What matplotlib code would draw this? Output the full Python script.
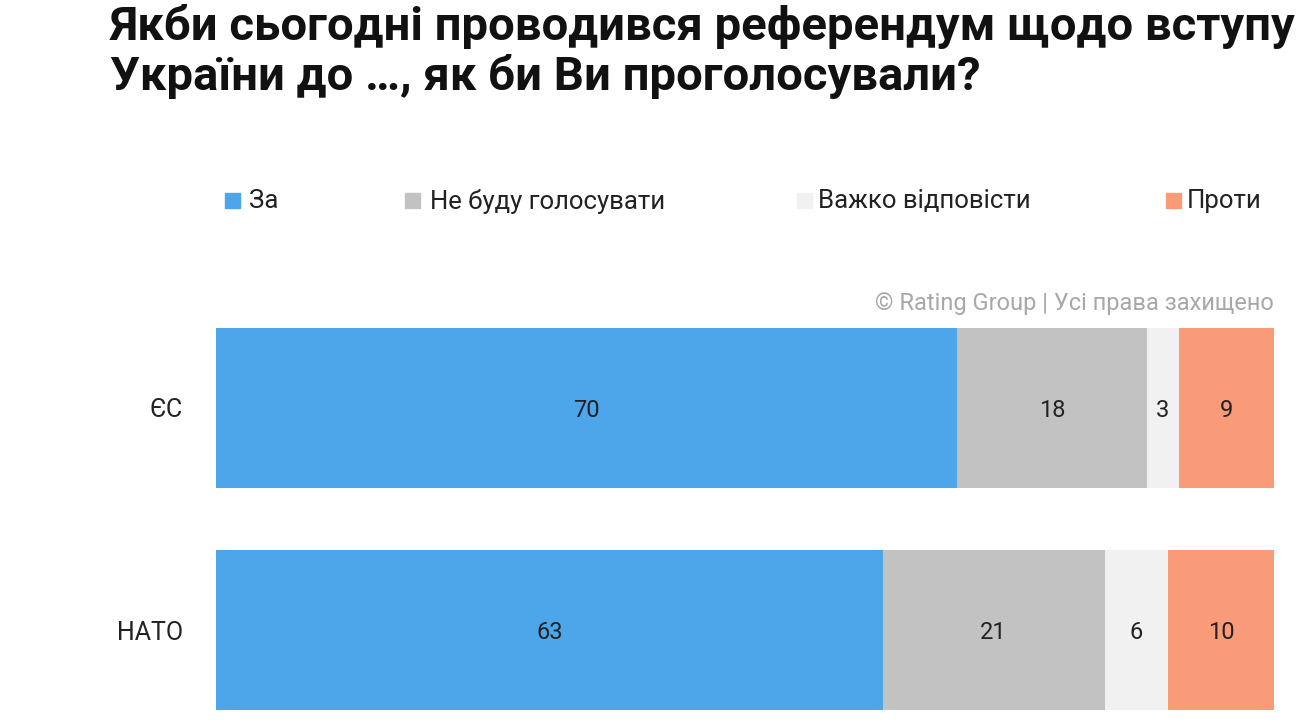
import matplotlib.pyplot as plt
from matplotlib.patches import Rectangle
import numpy as np

plt.rcParams['font.family'] = ['Roboto', 'DejaVu Sans']

# data
categories = ['ЄС', 'НАТО']
answers = ['За', 'Не буду голосувати', 'Важко відповісти', 'Проти']
za = [70, 63]
ne_budu = [18, 21]
vazhko = [3, 6]
proty = [9, 10]

colors = ['#4DA6EA', '#C2C2C2', '#F1F1F1', '#F99B78']
title = 'Якби сьогодні проводився референдум щодо вступу\nУкраїни до …, як би Ви проголосували?'
credit = '© Rating Group | Усі права захищено'

W, H = 1299, 725
fig = plt.figure(figsize=(W / 100, H / 100), dpi=100)
ax = fig.add_axes([216 / W, 1 - 710 / H, (1274 - 216) / W, (710 - 328) / H])

series = [za, ne_budu, vazhko, proty]
y = np.arange(len(categories))
left = np.zeros(len(categories))
for vals, col in zip(series, colors):
    vals = np.array(vals, dtype=float)
    ax.barh(y, vals, left=left, height=0.72, color=col, edgecolor='none')
    for yi, l, v in zip(y, left, vals):
        ax.text(l + v / 2, yi + 0.01, f'{v:g}', ha='center', va='center',
                fontsize=17, color='#222222')
    left += vals

ax.set_xlim(0, 100)
ax.set_ylim(1.36, -0.36)
ax.set_yticks(y)
ax.set_yticklabels(categories, fontsize=18, color='#222222')
ax.tick_params(axis='y', length=0, pad=24)
ax.set_xticks([])
for s in ax.spines.values():
    s.set_visible(False)

# title, one line at a time
for i, line in enumerate(title.split('\n')):
    fig.text(110 / W, 1 - (40 + 50 * i) / H, line, ha='left', va='baseline',
             fontsize=34, fontweight='bold', color='#111111')

# legend
sq_x = [225, 405, 797, 1166]
txt_x = [249, 430, 818, 1187]
for x0, tx, lab, col in zip(sq_x, txt_x, answers, colors):
    fig.patches.append(Rectangle((x0 / W, 1 - 208 / H), 15 / W, 15 / H,
                                 transform=fig.transFigure, color=col))
    fig.text(tx / W, 1 - 201 / H, lab, ha='left', va='center',
             fontsize=18.5, color='#222222')

fig.text(1274 / W, 1 - 303 / H, credit, ha='right', va='center',
         fontsize=17, color='#A8A8A8')

plt.savefig('out.png', dpi=100)
